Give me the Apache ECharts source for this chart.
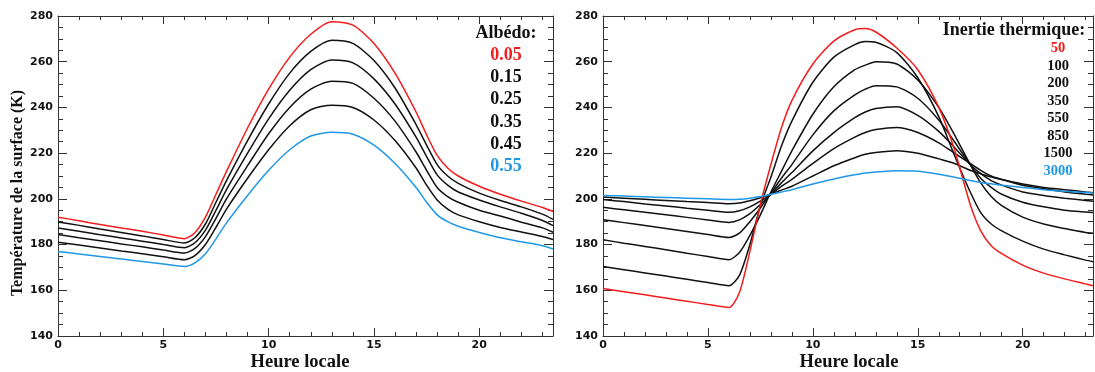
<!DOCTYPE html>
<html><head><meta charset="utf-8">
<script src="https://cdn.jsdelivr.net/npm/echarts@6/dist/echarts.min.js"></script>
<style>html,body{margin:0;padding:0;background:#fff;}#c{width:1095px;height:372px;}</style>
</head><body><div id="c"></div>
<script>
// ---------- data ----------
const hoursA = [0,1,2,3,4,5,6,6.5,7,7.5,8,9,10,11,12,13,14,15,16,17,17.5,18,18.5,19,20,21,22,23,23.5];
const albedoNames = ['0.05','0.15','0.25','0.35','0.45','0.55'];
const alb005 = [192,190.4,188.8,187.3,185.8,184.2,182.6,185.2,192,202,212,231,248,262,272,277.5,276,268,255,238,228,219,213.5,210,205.5,202,199,196.2,194.5];
const alb015 = [189.9,188.4,186.8,185.3,183.8,182.2,180.7,183,189,198.5,208,225.5,241.5,255,264.5,269.4,268,260.5,248.5,232.5,223.5,215,210,206.8,202.5,199.3,196.5,193.3,191];
const alb025 = [187.2,185.8,184.3,182.9,181.5,180,178.6,180.8,186.3,195,204,220,235,247.5,256.5,260.7,259.5,252.5,241.5,227,218.5,210.5,206,203,199.5,196.5,193.7,190.5,188.3];
const alb035 = [184.4,183,181.7,180.3,179,177.6,176.3,178.3,183.5,191.5,200,214.5,228.5,240,248,251.4,250.5,244,234,220.5,212.5,205,201,198.5,195,192.5,189.8,187.3,185.4];
const alb045 = [181,179.8,178.5,177.2,176,174.7,173.4,175.2,180,187.5,195.5,209,221.5,232,239,241,240,234.5,225.5,213.5,206,199.5,195.5,193,190,187.5,185.5,183.5,182.2];
const alb055 = [177,175.9,174.8,173.7,172.6,171.5,170.4,172,176,182.5,189.5,201.5,212.5,221.5,227.5,229.1,228.3,223.5,215.5,205,198.5,193,190,188,185.3,183,181.2,179.5,178.1];

const hoursB = [0,1,2,3,4,5,6,6.5,7,7.5,8,8.5,9,10,11,12,12.5,13,14,15,16,16.75,17.5,18,18.5,19,20,21,22,23,23.35];
const inertiaNames = ['50','100','200','350','550','850','1500','3000'];
const ti50   = [160.8,159.4,158,156.6,155.2,153.8,152.5,159,177,197.5,215,231,243,259,269,274,274.5,273,266,256.5,240,221.5,197.5,186,179.5,176,171,167.5,165,162.8,162];
const ti100  = [170.4,169,167.6,166.2,164.8,163.4,162,166.5,180,197,209.5,223,234,251,262,267.5,268.8,268.5,264,253,236,219,203,194,189,186,181.5,178,175.5,173.2,172.5];
const ti200  = [182.1,180.6,179.2,177.7,176.2,174.8,173.4,176.5,184,193,203,212,221,237,249,256.5,258.5,260,259,252,240,228,215,207,201,197,192,189,187,185.3,185];
const ti350  = [190.9,189.6,188.3,187,185.7,184.4,183.1,185,190,196,202.5,209,215,228,238.5,245.5,248,249.5,249,244,234.5,225,215,209,205,202,198.5,196.5,195,194.2,194];
const ti550  = [196.3,195.2,194.1,193,191.9,190.8,189.7,190.8,193.5,197.5,202,207,211.5,221,229,235.5,238,239.5,240.3,236.5,229.5,222.5,215,211,208,206,203,201.5,200.3,199.3,199];
const ti850  = [199.7,198.8,197.8,196.9,195.9,195,194.1,194.8,196.5,199,202,205.5,208.5,215.5,222,227,229,230.3,231.2,229,224.5,220,215.5,212.5,210,208.5,206,204.5,203,202,201.7];
const ti1500 = [200.8,200.3,199.8,199.3,198.8,198.4,197.9,198.2,199.2,200.5,202,203.8,205.5,210,214.5,218,219.5,220.3,221.1,220,217.5,215.5,212.5,211,209.5,208.5,206.5,205,204,203,202.7];
const ti3000 = [201.5,201.2,200.9,200.6,200.3,200,199.7,199.8,200.3,201,202,203,204,206.5,208.7,210.5,211.3,211.8,212.3,212.1,210.8,209.5,208,207.2,206.6,206,205,204,203.3,202.8,202.6];

const yTicks = [140,160,180,200,220,240,260,280];
const xTicks = [0,5,10,15,20];

// ---------- styles ----------
const RED = '#f41c1c', BLUE = '#1f98e8', BLACK = '#111';
const albColors = [RED, BLACK, BLACK, BLACK, BLACK, BLUE];
const tiColors = [RED, BLACK, BLACK, BLACK, BLACK, BLACK, BLACK, BLUE];
const AX = '#333';
const SERIF = '"Liberation Serif","Times New Roman",serif';
const SANS = '"DejaVu Sans",sans-serif';

function xAxes(gi, max) {
  const base = {gridIndex: gi, type: 'value', min: 0, max: max, splitLine: {show: false}};
  return [
    Object.assign({}, base, {position: 'bottom', interval: 5,
      axisLine: {onZero: false, lineStyle: {color: AX, width: 1}},
      axisTick: {inside: true, length: 8, lineStyle: {color: AX}},
      axisLabel: {margin: 4, color: '#111', fontFamily: SANS, fontWeight: 'bold', fontSize: 11, showMaxLabel: false,
        formatter: v => xTicks.indexOf(v) >= 0 ? String(v) : ''}}),
    Object.assign({}, base, {position: 'bottom', interval: 1,
      axisLine: {show: false, onZero: false}, axisLabel: {show: false},
      axisTick: {inside: true, length: 4, lineStyle: {color: AX}}}),
    Object.assign({}, base, {position: 'top', interval: 5,
      axisLine: {onZero: false, lineStyle: {color: AX, width: 1}},
      axisTick: {inside: true, length: 8, lineStyle: {color: AX}}, axisLabel: {show: false}}),
    Object.assign({}, base, {position: 'top', interval: 1,
      axisLine: {show: false, onZero: false}, axisLabel: {show: false},
      axisTick: {inside: true, length: 4, lineStyle: {color: AX}}})
  ];
}
function yAxes(gi) {
  const base = {gridIndex: gi, type: 'value', min: 140, max: 280, interval: 20, splitLine: {show: false},
    minorTick: {show: true, splitNumber: 4, length: 5, lineStyle: {color: AX}},
    axisTick: {inside: true, length: 9, lineStyle: {color: AX}}};
  return [
    Object.assign({}, base, {position: 'left',
      axisLine: {onZero: false, lineStyle: {color: AX, width: 1}},
      axisLabel: {margin: 5, color: '#111', fontFamily: SANS, fontWeight: 'bold', fontSize: 11,
        formatter: v => yTicks.indexOf(v) >= 0 ? String(v) : ''}}),
    Object.assign({}, base, {position: 'right',
      axisLine: {onZero: false, lineStyle: {color: AX, width: 1}}, axisLabel: {show: false}})
  ];
}

const albData = [alb005, alb015, alb025, alb035, alb045, alb055];
const tiData = [ti50, ti100, ti200, ti350, ti550, ti850, ti1500, ti3000];
const series = [];
albData.forEach((vals, k) => series.push({
  name: 'Albédo ' + albedoNames[k], type: 'line', xAxisIndex: 0, yAxisIndex: 0,
  data: hoursA.map((h, i) => [h, vals[i]]), showSymbol: false, smooth: 0.25,
  lineStyle: {color: albColors[k], width: 1.5}, itemStyle: {color: albColors[k]}, silent: true, z: k === 0 || k === 5 ? 3 : 2
}));
tiData.forEach((vals, k) => series.push({
  name: 'Inertie ' + inertiaNames[k], type: 'line', xAxisIndex: 4, yAxisIndex: 2,
  data: hoursB.map((h, i) => [h, vals[i]]), showSymbol: false, smooth: 0.25,
  lineStyle: {color: tiColors[k], width: 1.5}, itemStyle: {color: tiColors[k]}, silent: true, z: k === 0 || k === 7 ? 3 : 2
}));

const graphic = [];
graphic.push({type: 'text', x: 18, y: 193, rotation: Math.PI / 2,
  style: {text: 'Température de la surface (K)', font: 'bold 16px ' + SERIF, fill: '#111', align: 'center', verticalAlign: 'middle'}});
graphic.push({type: 'text', x: 300, y: 362,
  style: {text: 'Heure locale', font: 'bold 18.5px ' + SERIF, fill: '#111', align: 'center', verticalAlign: 'middle'}});
graphic.push({type: 'text', x: 849, y: 362,
  style: {text: 'Heure locale', font: 'bold 18.5px ' + SERIF, fill: '#111', align: 'center', verticalAlign: 'middle'}});
graphic.push({type: 'text', x: 506, y: 33,
  style: {text: 'Albédo:', font: 'bold 18px ' + SERIF, fill: '#111', align: 'center', verticalAlign: 'middle'}});
const albY = [55, 77, 99, 122, 144, 166];
albedoNames.forEach((n, k) => graphic.push({type: 'text', x: 506, y: albY[k],
  style: {text: n, font: 'bold 18px ' + SERIF, fill: albColors[k], align: 'center', verticalAlign: 'middle'}}));
graphic.push({type: 'text', x: 1014, y: 30,
  style: {text: 'Inertie thermique:', font: 'bold 18px ' + SERIF, fill: '#111', align: 'center', verticalAlign: 'middle'}});
const tiY = [48, 66, 83, 101, 118, 136, 153, 171];
inertiaNames.forEach((n, k) => graphic.push({type: 'text', x: 1058, y: tiY[k],
  style: {text: n, font: 'bold 14.5px ' + SERIF, fill: tiColors[k], align: 'center', verticalAlign: 'middle'}}));

const chart = echarts.init(document.getElementById('c'), null, {renderer: 'canvas'});
chart.setOption({
  animation: false,
  backgroundColor: '#fff',
  grid: [
    {left: 58, right: 1095 - 553, top: 16, bottom: 36},
    {left: 603, right: 2, top: 16, bottom: 36}
  ],
  xAxis: xAxes(0, 23.5).concat(xAxes(1, 23.35)),
  yAxis: yAxes(0).concat(yAxes(1)),
  series: series,
  graphic: graphic
});
</script></body></html>
